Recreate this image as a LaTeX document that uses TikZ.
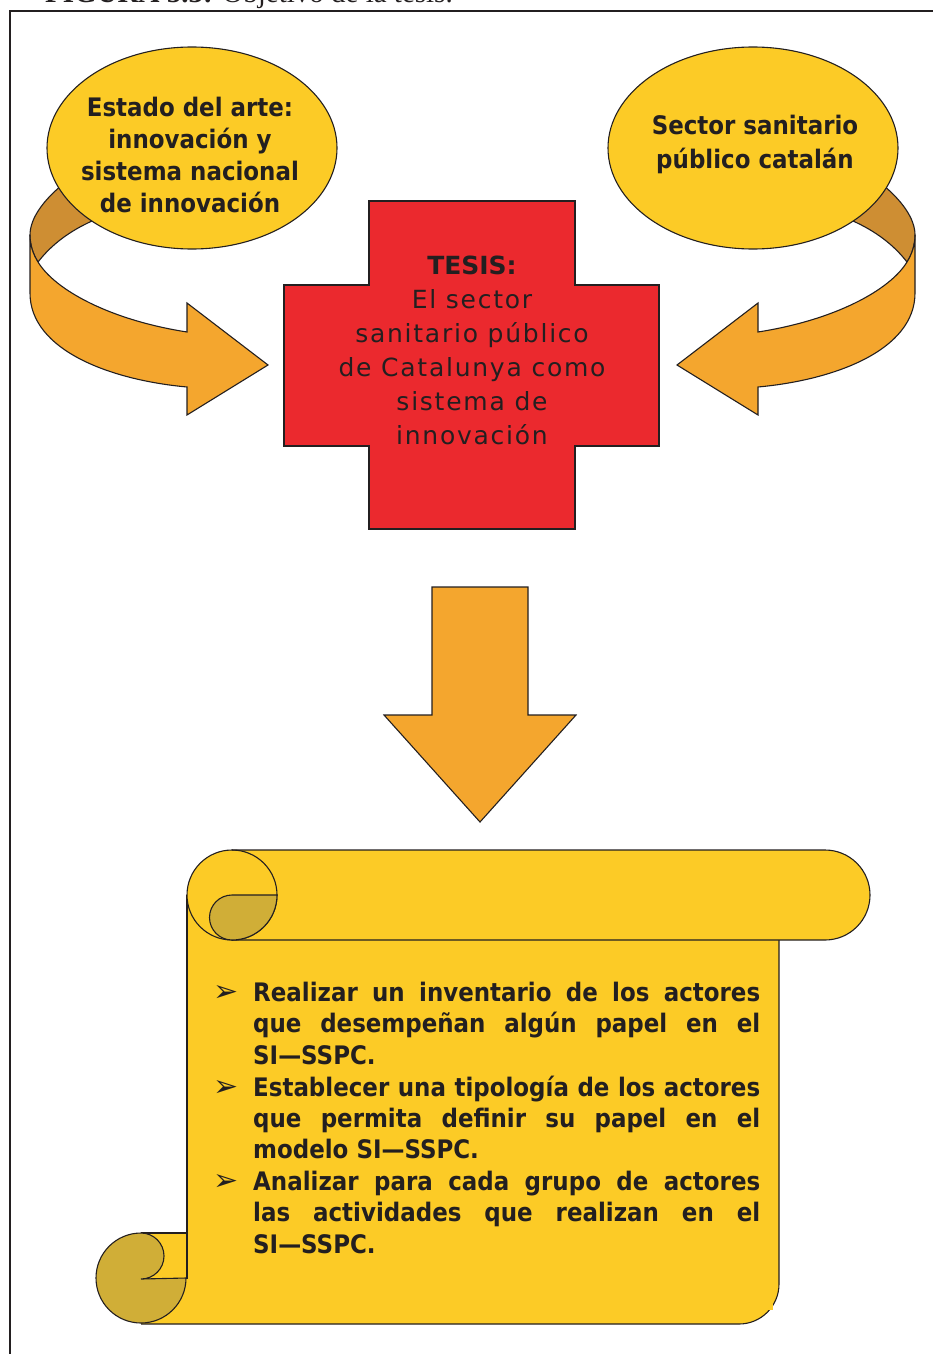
\documentclass[tikz,border=0pt]{standalone}
\usepackage{fontspec}
\setmainfont{Liberation Serif}
\newfontfamily\vbf{DejaVu Sans}[FakeStretch=0.9]
\newfontfamily\vrf{DejaVu Sans}[LetterSpace=7]
\newfontfamily\dvf{DejaVu Sans}
\definecolor{yellowF}{HTML}{FCCB26}
\definecolor{orangeA}{HTML}{F4A62E}
\definecolor{orangeD}{HTML}{CE8E33}
\definecolor{redC}{HTML}{EB292E}
\definecolor{oliveR}{HTML}{D0AE37}
\definecolor{lineC}{HTML}{231F20}
\newcommand{\ovalfont}{\vbf\bfseries\fontsize{25.5}{32}\selectfont}
\newcommand{\ovalfontb}{\vbf\bfseries\fontsize{25.5}{34}\selectfont}
\newcommand{\crossfont}{\vrf\fontsize{25}{34}\selectfont}
\newcommand{\listfont}{\vbf\bfseries\fontsize{25.5}{31.4}\selectfont}
\newcommand{\bul}{\leavevmode\llap{\makebox[40pt][l]{\dvf\fontsize{30}{30}\selectfont ➢}}}
\begin{document}
\begin{tikzpicture}[x=1pt,y=-1pt,
  outl/.style={draw=lineC,line width=1.1pt,line join=miter},
  txt/.style={inner sep=0pt,text=lineC,align=center}]
\useasboundingbox (0,0) rectangle (933,1354);
\clip (0,0) rectangle (933,1354);
% frame and caption
\draw[line width=2.5pt,draw=lineC] (10,11) rectangle (960,1380);
\node[anchor=base west,inner sep=0pt,text=lineC,font=\fontsize{29}{30}\selectfont] (title) at (45,3) {\textbf{FIGURA 5.3:} Objetivo de la tesis.};
% left curved arrow
\path[outl,fill=orangeD] (62,185) .. controls (44,200) and (30,218) .. (30,235)
  .. controls (30,245) and (33,254) .. (38,262)
  .. controls (52,244) and (70,231) .. (92,221) -- (100,205) -- cycle;
\path[outl,fill=orangeA] (30,235) -- (30,293) .. controls (30,350) and (110,380) .. (187,387)
  -- (187,415) -- (268,365) -- (187,303) -- (187,332)
  .. controls (110,320) and (55,290) .. (38,262)
  .. controls (33,254) and (30,245) .. (30,235) -- cycle;
% right curved arrow (mirror)
\begin{scope}[shift={(945,0)},xscale=-1]
\path[outl,fill=orangeD] (62,185) .. controls (44,200) and (30,218) .. (30,235)
  .. controls (30,245) and (33,254) .. (38,262)
  .. controls (52,244) and (70,231) .. (92,221) -- (100,205) -- cycle;
\path[outl,fill=orangeA] (30,235) -- (30,293) .. controls (30,350) and (110,380) .. (187,387)
  -- (187,415) -- (268,365) -- (187,303) -- (187,332)
  .. controls (110,320) and (55,290) .. (38,262)
  .. controls (33,254) and (30,245) .. (30,235) -- cycle;
\end{scope}
% ellipses
\path[outl,fill=yellowF] (192,148) ellipse [x radius=145,y radius=101];
\path[outl,fill=yellowF] (753,148) ellipse [x radius=145,y radius=101];
\node[txt,font=\ovalfont] (arte) at (190,155) {Estado del arte:\\innovación y\\sistema nacional\\de innovación};
\node[txt,font=\ovalfontb] (sector) at (755,144.5) {Sector sanitario\\público catalán};
% cross
\path[outl,fill=redC] (369,201) -- (575,201) -- (575,285) -- (659,285) -- (659,446)
  -- (575,446) -- (575,529) -- (369,529) -- (369,446) -- (284,446) -- (284,285)
  -- (369,285) -- cycle;
\node[txt,font=\crossfont] (tesis) at (472,350) {{\dvf\bfseries TESIS:}\\El sector\\sanitario público\\de Catalunya como\\sistema de\\innovación};
% down arrow
\path[outl,fill=orangeA] (432,587) -- (528,587) -- (528,715) -- (576,715) -- (480,822)
  -- (384,715) -- (432,715) -- cycle;
% scroll body
\fill[yellowF] (187,895) -- (779,895) -- (779,1284) arc[start angle=0,end angle=90,radius=40]
  -- (141,1324) -- (141,1233) -- (187,1233) -- cycle;
\draw[outl] (779,940) -- (779,1284) arc[start angle=0,end angle=90,radius=40] -- (141,1324);
\draw[outl] (187,895) -- (187,1279);
\draw[outl] (141,1233) -- (187,1233);
\fill[yellowF] (764,1300) rectangle (773,1310);
% bottom roll
\path[outl,fill=oliveR] (141,1233) arc[start angle=270,end angle=0,radius=45] -- (141,1279)
  arc[start angle=90,end angle=-90,radius=23] -- cycle;
% top roll
\path[outl,fill=yellowF] (232,850) -- (825,850) arc[start angle=-90,end angle=90,radius=45]
  -- (232,940) arc[start angle=90,end angle=270,radius=45] -- cycle;
\draw[outl] (232,850) arc[start angle=-90,end angle=90,radius=45];
\path[outl,fill=oliveR] (232,895) -- (277,895) arc[start angle=0,end angle=90,radius=45]
  arc[start angle=90,end angle=270,radius=22.5] -- cycle;
% objectives
\node[anchor=north west,inner sep=0pt,text=lineC,text width=547pt,align=justify,font=\listfont] (obj) at (213,982)
{\setlength{\leftskip}{40pt}\setlength{\parskip}{0.3pt}\hyphenpenalty=10000
\bul Realizar un inventario de los actores\linebreak que desempeñan algún papel en el\linebreak SI—SSPC.\par
\bul Establecer una tipología de los actores\linebreak que permita definir su papel en el\linebreak modelo SI—SSPC.\par
\bul Analizar para cada grupo de actores\linebreak las actividades que realizan en el\linebreak SI—SSPC.\par};
\end{tikzpicture}
\end{document}
